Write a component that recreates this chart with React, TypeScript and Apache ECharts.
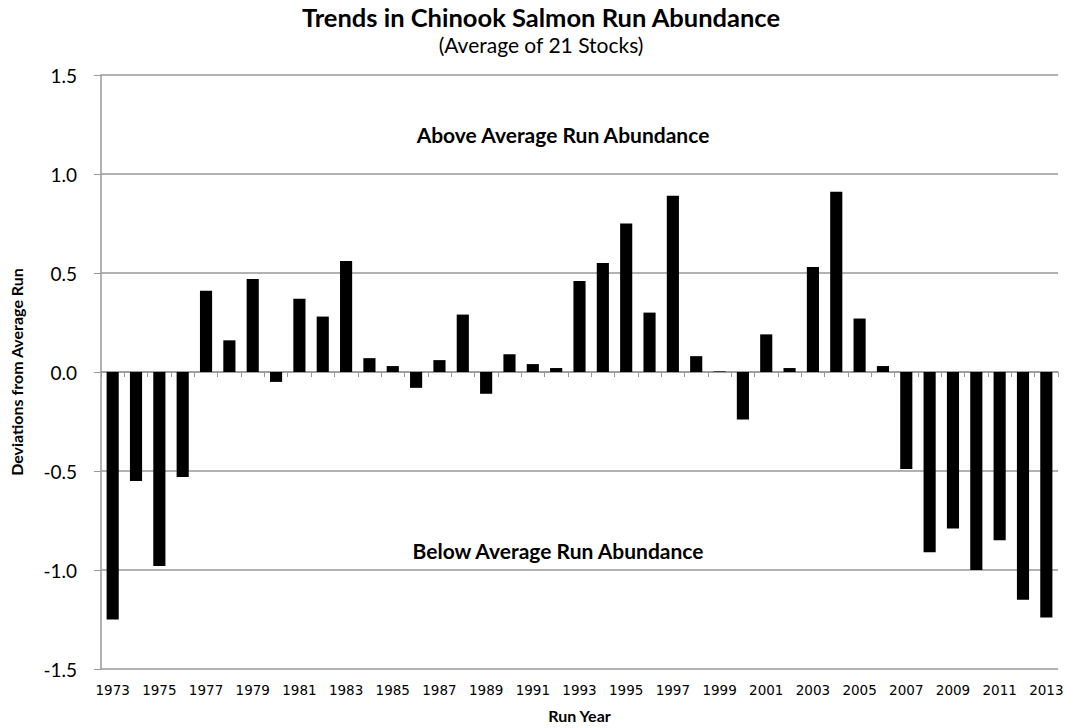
import React, { useEffect, useRef } from "react";
import * as echarts from "echarts";

const years: string[] = [];
for (let y = 1973; y <= 2013; y++) years.push(String(y));

const deviations: number[] = [
  -1.25, -0.55, -0.98, -0.53, 0.41, 0.16, 0.47, -0.05, 0.37, 0.28,
  0.56, 0.07, 0.03, -0.08, 0.06, 0.29, -0.11, 0.09, 0.04, 0.02,
  0.46, 0.55, 0.75, 0.30, 0.89, 0.08, 0.003, -0.24, 0.19, 0.02,
  0.53, 0.91, 0.27, 0.03, -0.49, -0.91, -0.79, -1.0, -0.85, -1.15,
  -1.24,
];

const yTicks: number[] = [-1.5, -1.0, -0.5, 0.0, 0.5, 1.0, 1.5];

const titleText = "Trends in Chinook Salmon Run Abundance";
const subtitleText = "(Average of 21 Stocks)";
const aboveText = "Above Average Run Abundance";
const belowText = "Below Average Run Abundance";
const yName = "Deviations from Average Run";
const xName = "Run Year";

const FONT = "Lato, 'Open Sans', sans-serif";
const XFONT = "'DejaVu Sans', Verdana, sans-serif";

export default function App() {
  const ref = useRef<HTMLDivElement>(null);
  useEffect(() => {
    if (!ref.current) return;
    const chart = echarts.init(ref.current, undefined, { renderer: "svg" });
    chart.setOption({
      animation: false,
      backgroundColor: "#ffffff",
      grid: { left: 97, right: 10, top: 75, bottom: 58, containLabel: false },
      xAxis: [
        {
          type: "category",
          data: years,
          boundaryGap: true,
          axisLine: { onZero: true, lineStyle: { color: "#999999", width: 1.5 } },
          axisTick: { show: true, length: 5, alignWithLabel: false, interval: 0, lineStyle: { color: "#999999" } },
          axisLabel: { show: false },
          splitLine: { show: false },
        },
        {
          type: "category",
          data: years,
          position: "bottom",
          boundaryGap: true,
          axisLine: { show: false, onZero: false },
          axisTick: { show: false },
          axisLabel: {
            show: true,
            interval: 1,
            margin: 14,
            fontFamily: XFONT,
            fontSize: 13.5,
            color: "#000",
          },
          name: xName,
          nameLocation: "middle",
          nameGap: 38,
          nameTextStyle: { fontFamily: FONT, fontWeight: "bold", fontSize: 16, color: "#000" },
        },
      ],
      yAxis: {
        type: "value",
        min: yTicks[0],
        max: yTicks[yTicks.length - 1],
        interval: 0.5,
        axisLine: { show: true, lineStyle: { color: "#999999", width: 1.5 } },
        axisTick: { show: true, length: 7, lineStyle: { color: "#999999" } },
        axisLabel: {
          margin: 24,
          fontFamily: FONT,
          fontSize: 19,
          color: "#000",
          formatter: (v: number) => v.toFixed(1),
        },
        splitLine: { show: true, lineStyle: { color: "#999999", width: 1.5 } },
        name: yName,
        nameLocation: "middle",
        nameGap: 77,
        nameTextStyle: { fontFamily: FONT, fontWeight: "bold", fontSize: 16, color: "#000" },
      },
      graphic: [
        {
          type: "text",
          x: 541,
          y: 17,
          style: { text: titleText, fontFamily: FONT, fontWeight: "bold", fontSize: 25.5, fill: "#000", align: "center", verticalAlign: "middle" },
        },
        {
          type: "text",
          x: 541,
          y: 44,
          style: { text: subtitleText, fontFamily: FONT, fontSize: 21, fill: "#000", align: "center", verticalAlign: "middle" },
        },
        {
          type: "text",
          x: 563,
          y: 134,
          style: { text: aboveText, fontFamily: FONT, fontWeight: "bold", fontSize: 21, fill: "#000", align: "center", verticalAlign: "middle" },
        },
        {
          type: "text",
          x: 558,
          y: 550,
          style: { text: belowText, fontFamily: FONT, fontWeight: "bold", fontSize: 21, fill: "#000", align: "center", verticalAlign: "middle" },
        },
      ],
      series: [
        {
          type: "bar",
          data: deviations,
          xAxisIndex: 0,
          barWidth: "52%",
          itemStyle: { color: "#000000" },
        },
      ],
    });
    return () => chart.dispose();
  }, []);
  return (
    <div
      ref={ref}
      style={{ position: "absolute", left: 0, top: 0, width: 1068, height: 728 }}
    />
  );
}
